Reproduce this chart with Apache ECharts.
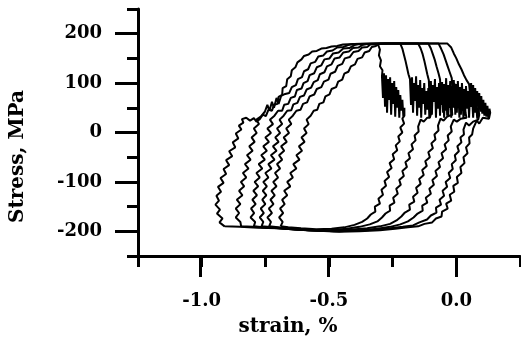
<!DOCTYPE html>
<html><head><meta charset="utf-8">
<script src="https://cdn.jsdelivr.net/npm/echarts@6/dist/echarts.min.js"></script>
<style>html,body{margin:0;padding:0;background:#fff}#c{width:521px;height:350px}</style>
</head><body><div id="c"></div>
<script>
// tick labels
const xTickLabels = [-1.0, -0.5, 0.0];
const yTickLabels = [-200, -100, 0, 100, 200];
// hysteresis loops: [strain %, stress MPa], outermost (A) to innermost (F)
const loopA = [[-0.910,-190],[-0.930,-182],[-0.918,-174],[-0.940,-164],[-0.928,-156],[-0.946,-146],[-0.932,-138],[-0.942,-128],[-0.924,-120],[-0.936,-110],[-0.914,-102],[-0.926,-92],[-0.904,-84],[-0.914,-74],[-0.892,-66],[-0.904,-56],[-0.880,-48],[-0.892,-38],[-0.868,-30],[-0.878,-20],[-0.856,-12],[-0.866,-2],[-0.844,6],[-0.854,14],[-0.836,20],[-0.842,27],
[-0.825,30],[-0.81,24],[-0.795,29],[-0.785,22],[-0.772,27],
[-0.76,36],[-0.748,33],[-0.738,46],[-0.724,44],[-0.716,56],[-0.702,58],[-0.698,72],[-0.684,76],[-0.682,90],[-0.668,94],[-0.664,108],[-0.650,114],[-0.646,126],[-0.632,132],[-0.624,142],[-0.608,148],[-0.598,155],[-0.580,158],[-0.566,164],[-0.548,165],[-0.530,170],[-0.510,171],[-0.490,174],[-0.468,175],[-0.445,178],
[-0.40,179],[-0.30,180],[-0.20,180],[-0.10,180],[-0.035,180],
[-0.020,172],[-0.010,160],[0.000,150],[0.010,138],[0.020,128],[0.030,116],[0.040,106],
[0.050,98],[0.054,78],[0.058,100],[0.062,66],[0.066,96],[0.070,58],[0.074,90],[0.078,54],[0.082,84],[0.086,46],[0.090,80],[0.094,42],[0.098,74],[0.102,38],[0.106,66],[0.110,34],[0.114,60],[0.118,32],[0.122,54],[0.126,30],[0.130,48],[0.133,40],[0.128,28],
[0.104,30],[0.090,18],[0.080,24],[0.066,8],[0.062,-4],[0.050,-10],[0.052,-22],[0.038,-30],[0.044,-42],[0.028,-50],[0.032,-62],[0.016,-70],[0.020,-82],[0.002,-90],[0.006,-102],[-0.012,-108],[-0.008,-120],[-0.026,-126],[-0.020,-138],[-0.040,-144],[-0.034,-154],[-0.056,-160],[-0.058,-170],[-0.080,-174],[-0.095,-182],[-0.125,-185],[-0.15,-190],[-0.19,-192],[-0.24,-195],
[-0.30,-198],[-0.38,-200],[-0.46,-201],[-0.54,-199],[-0.62,-197],[-0.70,-194],[-0.78,-193],[-0.85,-191],[-0.910,-190]];
const loopB = [[-0.845,-190],[-0.848,-181],[-0.866,-172],[-0.853,-163],[-0.866,-154],[-0.848,-145],[-0.862,-136],[-0.840,-127],[-0.853,-118],[-0.833,-109],[-0.846,-100],[-0.825,-91],[-0.838,-82],[-0.816,-73],[-0.830,-64],[-0.808,-55],[-0.822,-46],[-0.800,-37],[-0.813,-28],[-0.792,-19],[-0.804,-10],[-0.784,-1],[-0.795,8],[-0.775,17],[-0.785,26],[-0.768,32],
[-0.752,42],[-0.742,56],[-0.734,44],[-0.724,62],[-0.716,50],[-0.706,70],[-0.698,58],[-0.688,74],[-0.672,78],[-0.656,80],[-0.646,92],[-0.630,96],[-0.622,108],[-0.606,112],[-0.598,124],[-0.582,128],[-0.572,140],[-0.554,143],[-0.542,154],[-0.522,156],[-0.508,164],[-0.486,166],[-0.468,172],[-0.444,173],[-0.425,177],[-0.405,179],
[-0.30,180],[-0.20,180],[-0.07,180],
[-0.060,170],[-0.050,158],[-0.042,146],[-0.034,134],[-0.026,122],
[-0.018,110],[-0.014,72],[-0.010,106],[-0.006,50],[-0.002,98],[0.002,40],[0.006,104],[0.010,58],[0.014,92],[0.018,36],[0.022,100],[0.026,62],[0.030,88],[0.034,34],[0.038,94],[0.042,48],[0.046,84],[0.050,30],[0.054,80],[0.058,52],[0.062,72],[0.066,30],[0.070,68],[0.074,40],[0.078,60],[0.082,28],[0.086,50],[0.090,36],[0.086,26],
[0.066,22],[0.050,14],[0.038,20],[0.028,6],[0.030,-4],[0.016,-10],[0.020,-20],[0.004,-28],[0.010,-38],[-0.006,-46],[-0.002,-56],[-0.018,-64],[-0.014,-74],[-0.030,-82],[-0.024,-92],[-0.042,-100],[-0.036,-110],[-0.054,-118],[-0.048,-128],[-0.066,-136],[-0.060,-146],[-0.080,-152],[-0.078,-162],[-0.100,-168],[-0.115,-176],[-0.145,-182],[-0.17,-188],[-0.21,-191],[-0.26,-194],
[-0.32,-197],[-0.40,-199],[-0.48,-200],[-0.56,-198],[-0.64,-196],[-0.72,-193],[-0.80,-191],[-0.845,-190]];
const loopC = [[-0.795,-190],[-0.790,-181],[-0.808,-172],[-0.794,-163],[-0.806,-154],[-0.788,-145],[-0.801,-136],[-0.783,-127],[-0.797,-118],[-0.778,-109],[-0.792,-100],[-0.772,-91],[-0.785,-82],[-0.762,-73],[-0.776,-64],[-0.752,-55],[-0.766,-46],[-0.744,-37],[-0.758,-28],[-0.736,-19],[-0.750,-10],[-0.728,-1],[-0.742,8],[-0.720,17],[-0.732,26],[-0.714,34],
[-0.70,44],[-0.684,44],[-0.676,56],[-0.660,58],[-0.650,70],[-0.634,73],[-0.626,86],[-0.608,89],[-0.600,100],[-0.584,104],[-0.576,116],[-0.558,120],[-0.548,132],[-0.530,136],[-0.518,148],[-0.498,150],[-0.484,160],[-0.462,162],[-0.444,170],[-0.420,171],[-0.400,177],[-0.380,179],
[-0.28,180],[-0.11,180],
[-0.100,170],[-0.092,158],[-0.084,146],[-0.078,134],[-0.070,120],
[-0.064,108],[-0.060,60],[-0.056,102],[-0.052,40],[-0.048,98],[-0.044,54],[-0.040,110],[-0.036,34],[-0.032,96],[-0.028,66],[-0.024,104],[-0.020,30],[-0.016,94],[-0.012,50],[-0.008,100],[-0.004,36],[0.000,90],[0.004,58],[0.008,86],[0.012,30],[0.016,80],[0.020,44],[0.024,72],[0.028,28],[0.032,62],[0.036,40],[0.040,30],
[0.018,28],[0.002,22],[-0.010,26],[-0.022,12],[-0.018,2],[-0.034,-6],[-0.030,-16],[-0.046,-24],[-0.040,-34],[-0.058,-42],[-0.052,-52],[-0.070,-60],[-0.064,-70],[-0.082,-78],[-0.076,-88],[-0.094,-96],[-0.088,-106],[-0.106,-114],[-0.100,-124],[-0.120,-132],[-0.114,-142],[-0.134,-148],[-0.132,-158],[-0.152,-164],[-0.168,-172],[-0.19,-180],[-0.22,-186],[-0.26,-191],[-0.31,-195],
[-0.38,-198],[-0.46,-200],[-0.54,-199],[-0.62,-197],[-0.70,-194],[-0.76,-192],[-0.795,-190]];
const loopD = [[-0.765,-190],[-0.758,-181],[-0.772,-172],[-0.756,-163],[-0.768,-154],[-0.750,-145],[-0.762,-136],[-0.746,-127],[-0.760,-118],[-0.744,-109],[-0.758,-100],[-0.738,-91],[-0.750,-82],[-0.726,-73],[-0.738,-64],[-0.714,-55],[-0.728,-46],[-0.706,-37],[-0.720,-28],[-0.698,-19],[-0.711,-10],[-0.692,-1],[-0.704,8],[-0.684,17],[-0.694,26],[-0.678,34],
[-0.664,44],[-0.648,45],[-0.640,57],[-0.624,60],[-0.614,72],[-0.598,75],[-0.588,87],[-0.570,91],[-0.560,102],[-0.544,106],[-0.536,118],[-0.518,122],[-0.508,134],[-0.490,138],[-0.478,150],[-0.458,152],[-0.444,162],[-0.422,164],[-0.406,171],[-0.384,172],[-0.370,177],[-0.350,179],
[-0.25,180],[-0.15,180],
[-0.140,170],[-0.132,158],[-0.126,146],[-0.120,132],[-0.114,118],
[-0.108,106],[-0.104,52],[-0.100,104],[-0.096,36],[-0.092,96],[-0.088,62],[-0.084,108],[-0.080,30],[-0.076,92],[-0.072,48],[-0.068,100],[-0.064,34],[-0.060,86],[-0.056,56],[-0.052,96],[-0.048,30],[-0.044,82],[-0.040,44],[-0.036,88],[-0.032,32],[-0.028,74],[-0.024,50],[-0.020,66],[-0.016,36],[-0.020,32],
[-0.036,32],[-0.050,24],[-0.062,28],[-0.072,14],[-0.070,4],[-0.086,-4],[-0.082,-14],[-0.098,-22],[-0.092,-32],[-0.110,-40],[-0.104,-50],[-0.122,-58],[-0.116,-68],[-0.134,-76],[-0.128,-86],[-0.146,-94],[-0.140,-104],[-0.158,-112],[-0.152,-122],[-0.170,-130],[-0.165,-140],[-0.185,-146],[-0.182,-156],[-0.202,-162],[-0.216,-170],[-0.235,-178],[-0.26,-185],[-0.30,-190],[-0.35,-194],
[-0.42,-197],[-0.50,-199],[-0.58,-198],[-0.66,-195],[-0.72,-192],[-0.765,-190]];
const loopE = [[-0.735,-190],[-0.728,-181],[-0.742,-172],[-0.724,-163],[-0.736,-154],[-0.718,-145],[-0.730,-136],[-0.713,-127],[-0.726,-118],[-0.706,-109],[-0.719,-100],[-0.700,-91],[-0.712,-82],[-0.692,-73],[-0.704,-64],[-0.684,-55],[-0.696,-46],[-0.676,-37],[-0.688,-28],[-0.666,-19],[-0.678,-10],[-0.657,-1],[-0.668,8],[-0.648,17],[-0.658,26],[-0.642,34],
[-0.628,44],[-0.612,46],[-0.602,58],[-0.586,61],[-0.576,73],[-0.558,77],[-0.548,88],[-0.530,92],[-0.520,103],[-0.502,107],[-0.494,119],[-0.476,123],[-0.466,135],[-0.448,139],[-0.438,150],[-0.418,153],[-0.404,163],[-0.384,165],[-0.370,172],[-0.350,173],[-0.338,178],
[-0.28,180],[-0.22,180],
[-0.212,170],[-0.206,158],[-0.200,146],[-0.194,132],[-0.188,118],
[-0.182,108],[-0.178,56],[-0.174,112],[-0.170,40],[-0.166,100],[-0.162,64],[-0.158,114],[-0.154,34],[-0.150,96],[-0.146,50],[-0.142,106],[-0.138,30],[-0.134,90],[-0.130,58],[-0.126,100],[-0.122,36],[-0.118,84],[-0.114,46],[-0.110,90],[-0.106,30],[-0.102,70],[-0.098,40],[-0.104,30],
[-0.114,30],[-0.128,22],[-0.140,26],[-0.150,12],[-0.148,2],[-0.164,-6],[-0.160,-16],[-0.176,-24],[-0.170,-34],[-0.188,-42],[-0.182,-52],[-0.200,-60],[-0.194,-70],[-0.212,-78],[-0.206,-88],[-0.224,-96],[-0.218,-106],[-0.236,-114],[-0.230,-124],[-0.248,-132],[-0.243,-142],[-0.262,-148],[-0.260,-158],[-0.278,-164],[-0.292,-172],[-0.31,-180],[-0.34,-186],[-0.38,-191],[-0.43,-195],
[-0.50,-198],[-0.58,-198],[-0.65,-195],[-0.70,-192],[-0.735,-190]];
const loopF = [[-0.690,-190],[-0.682,-181],[-0.696,-172],[-0.680,-163],[-0.692,-154],[-0.674,-145],[-0.684,-136],[-0.664,-127],[-0.676,-118],[-0.652,-109],[-0.664,-100],[-0.642,-91],[-0.652,-82],[-0.628,-73],[-0.640,-64],[-0.616,-55],[-0.628,-46],[-0.606,-37],[-0.618,-28],[-0.596,-19],[-0.608,-10],[-0.588,-1],[-0.598,8],[-0.580,17],[-0.588,26],[-0.572,34],
[-0.560,44],[-0.546,46],[-0.538,58],[-0.522,61],[-0.514,73],[-0.498,77],[-0.490,88],[-0.472,92],[-0.464,103],[-0.448,107],[-0.440,119],[-0.424,123],[-0.414,134],[-0.398,138],[-0.388,149],[-0.370,152],[-0.360,162],[-0.342,165],[-0.332,173],[-0.316,175],[-0.308,179],
[-0.300,168],[-0.304,156],[-0.296,146],[-0.300,134],[-0.290,126],
[-0.292,114],[-0.288,70],[-0.284,120],[-0.280,52],[-0.276,116],[-0.272,40],[-0.268,108],[-0.264,66],[-0.260,112],[-0.256,36],[-0.252,100],[-0.248,58],[-0.244,104],[-0.240,32],[-0.236,92],[-0.232,50],[-0.228,86],[-0.224,30],[-0.220,76],[-0.216,44],[-0.212,66],[-0.208,32],[-0.204,50],[-0.204,34],
[-0.212,28],[-0.205,18],[-0.220,10],[-0.212,0],[-0.228,-8],[-0.222,-18],[-0.238,-26],[-0.232,-36],[-0.250,-44],[-0.244,-54],[-0.262,-62],[-0.254,-72],[-0.272,-80],[-0.264,-90],[-0.282,-98],[-0.276,-108],[-0.294,-116],[-0.288,-126],[-0.306,-134],[-0.300,-144],[-0.320,-150],[-0.318,-160],[-0.336,-166],[-0.350,-174],[-0.37,-181],[-0.40,-187],[-0.44,-192],[-0.49,-195],
[-0.55,-196],[-0.61,-194],[-0.66,-192],[-0.690,-190]];
const loops = [loopA, loopB, loopC, loopD, loopE, loopF];

const FONT = '"DejaVu Serif", "Liberation Serif", serif';
const labelStyle = {fontFamily: FONT, fontWeight: 'bold', fontSize: 18, color: '#000'};
const nameStyle = {fontFamily: FONT, fontWeight: 'bold', fontSize: 20, color: '#000'};
const gridBox = {left: 136, right: 1, top: 9, bottom: 94};
const tickLine = {color: '#000', width: 3};
const chart = echarts.init(document.getElementById('c'), null, {renderer: 'canvas'});
chart.setOption({
  animation: false,
  backgroundColor: '#fff',
  grid: [Object.assign({}, gridBox), Object.assign({}, gridBox)],
  xAxis: [
    {
      type: 'value', gridIndex: 0, min: -1.25, max: 0.25, interval: 0.25, position: 'bottom',
      axisLine: {show: true, onZero: false, lineStyle: {color: '#000', width: 3}},
      splitLine: {show: false},
      axisTick: {show: true, length: 11, lineStyle: tickLine},
      axisLabel: Object.assign({}, labelStyle, {customValues: xTickLabels, margin: 36,
        formatter: v => Number(v).toFixed(1)}),
      name: 'strain, %', nameLocation: 'middle', nameGap: 61,
      nameTextStyle: Object.assign({}, nameStyle, {padding: [0, 82, 0, 0]})
    },
    {type: 'value', gridIndex: 1, min: -1.25, max: 0.25, interval: 0.25, position: 'bottom',
      axisLine: {show: false, onZero: false}, splitLine: {show: false}, axisLabel: {show: false},
      axisTick: {show: true, length: 21, customValues: xTickLabels, lineStyle: tickLine}}
  ],
  yAxis: [
    {
      type: 'value', gridIndex: 0, min: -250, max: 250, interval: 50, position: 'left',
      axisLine: {show: true, onZero: false, lineStyle: {color: '#000', width: 3}},
      splitLine: {show: false},
      axisTick: {show: true, length: 11, lineStyle: tickLine},
      axisLabel: Object.assign({}, labelStyle, {customValues: yTickLabels, margin: 36,
        formatter: v => String(v)}),
      name: 'Stress, MPa', nameLocation: 'middle', nameGap: 110, nameRotate: 90,
      nameTextStyle: Object.assign({}, nameStyle, {padding: [0, 48, 0, 0]})
    },
    {type: 'value', gridIndex: 1, min: -250, max: 250, interval: 50, position: 'left',
      axisLine: {show: false, onZero: false}, splitLine: {show: false}, axisLabel: {show: false},
      axisTick: {show: true, length: 21, customValues: yTickLabels, lineStyle: tickLine}}
  ],
  series: loops.map(d => ({
    type: 'line', xAxisIndex: 0, yAxisIndex: 0, data: d, showSymbol: false, symbol: 'none',
    lineStyle: {color: '#000', width: 2}, silent: true
  }))
});
</script></body></html>
